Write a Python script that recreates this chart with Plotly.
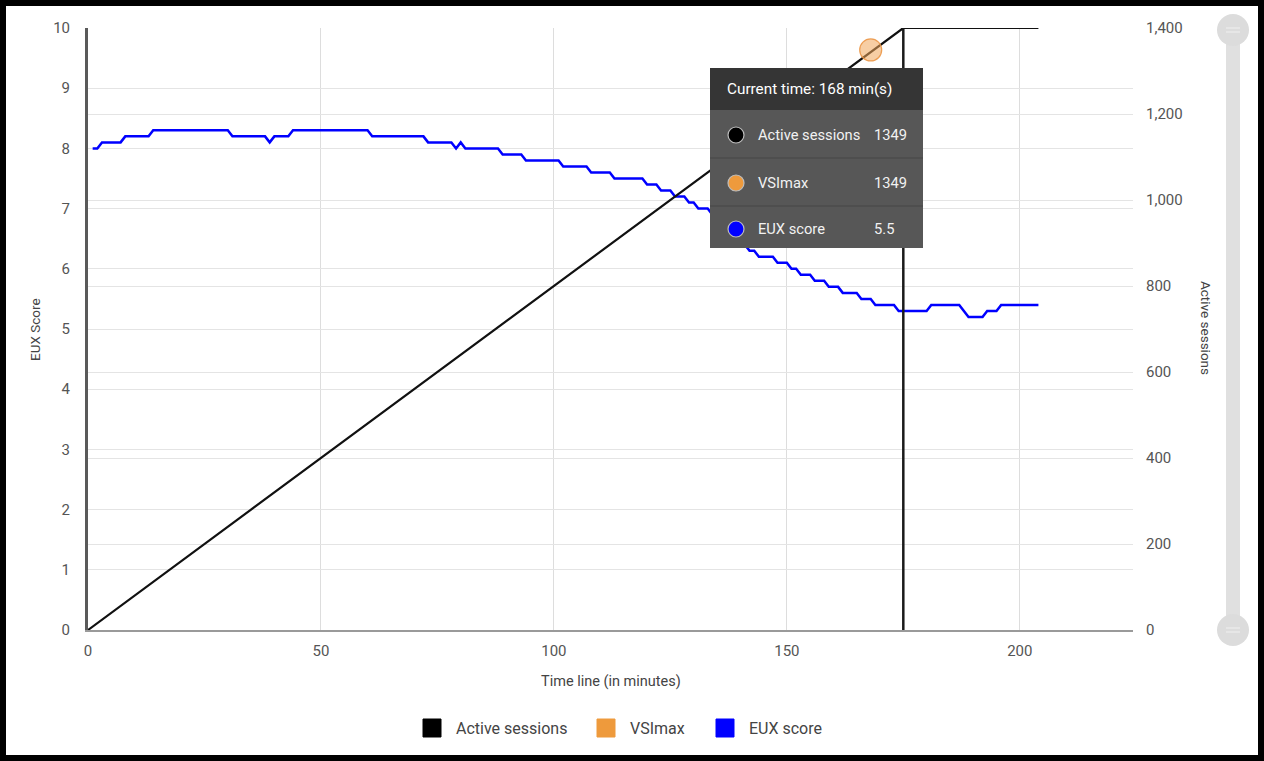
import plotly.graph_objects as go

# ---------------- data ----------------
eux_time = [1, 2, 3, 7, 8, 13, 14, 30, 31, 38, 39, 40, 43, 44, 60, 61, 72, 73, 78, 79,
            80, 81, 88, 89, 93, 94, 101, 102, 107, 108, 112, 113, 119, 120, 122, 123,
            125, 126, 128, 129, 130, 131, 133, 134, 135, 136, 137, 138, 139, 140, 141,
            142, 143, 144, 147, 148, 150, 151, 152, 153, 155, 156, 158, 159, 161, 162,
            165, 166, 168, 169, 173, 174, 180, 181, 187, 189, 192, 193, 195, 196, 204]
eux_score = [8.0, 8.0, 8.1, 8.1, 8.2, 8.2, 8.3, 8.3, 8.2, 8.2, 8.1, 8.2, 8.2, 8.3, 8.3, 8.2, 8.2, 8.1, 8.1, 8.0,
             8.1, 8.0, 8.0, 7.9, 7.9, 7.8, 7.8, 7.7, 7.7, 7.6, 7.6, 7.5, 7.5, 7.4, 7.4, 7.3,
             7.3, 7.2, 7.2, 7.1, 7.1, 7.0, 7.0, 6.9, 6.9, 6.8, 6.7, 6.7, 6.6, 6.5, 6.4,
             6.3, 6.3, 6.2, 6.2, 6.1, 6.1, 6.0, 6.0, 5.9, 5.9, 5.8, 5.8, 5.7, 5.7, 5.6,
             5.6, 5.5, 5.5, 5.4, 5.4, 5.3, 5.3, 5.4, 5.4, 5.2, 5.2, 5.3, 5.3, 5.4, 5.4]
assert len(eux_time) == len(eux_score)

sessions_time = [0, 175, 204]
sessions_count = [0, 1400, 1400]

cutoff_time = [175, 175]
cutoff_count = [0, 1400]

vsimax_time = [168]
vsimax_sessions = [1349]

hover_time = 168

series_names = ["Active sessions", "VSImax", "EUX score"]
series_colors = ["#000000", "#ee9a3c", "#0000ff"]

x_ticks = [0, 50, 100, 150, 200]
left_ticks = list(range(0, 11))
right_ticks = [0, 200, 400, 600, 800, 1000, 1200, 1400]

# ---------------- layout helpers (pixel -> paper) ----------------
L, R, T, B = 88, 1133, 28, 630
W, H = R - L, B - T


def px(x):
    return (x - L) / W


def py(y):
    return (B - y) / H


FONT = "Roboto"

fig = go.Figure()

# EUX score (left axis)
fig.add_trace(go.Scatter(x=eux_time, y=eux_score, mode="lines", name=series_names[2],
                         line=dict(color=series_colors[2], width=2.5), showlegend=False,
                         yaxis="y"))
# Active sessions (right axis)
fig.add_trace(go.Scatter(x=sessions_time, y=sessions_count, mode="lines", name=series_names[0],
                         line=dict(color="#111111", width=2.2), showlegend=False,
                         yaxis="y2"))
fig.add_trace(go.Scatter(x=cutoff_time, y=cutoff_count, mode="lines", name="cutoff",
                         line=dict(color="#1a1a1a", width=2.5), showlegend=False,
                         hoverinfo="skip", yaxis="y2"))
# VSImax point
fig.add_trace(go.Scatter(x=vsimax_time, y=vsimax_sessions, mode="markers", name=series_names[1],
                         marker=dict(size=22, color="rgba(240,165,90,0.55)",
                                     line=dict(color="rgba(235,150,70,0.9)", width=1.2)),
                         showlegend=False, yaxis="y2"))

shapes = []
annotations = []

# Outer black frame
shapes.append(dict(type="rect", xref="paper", yref="paper",
                   x0=px(3), x1=px(1261), y0=py(758), y1=py(3),
                   line=dict(color="#000000", width=6), fillcolor="rgba(0,0,0,0)",
                   layer="above"))

# Legend (square swatches, drawn)
legend_sq_x = [432, 606, 725]
legend_y = 728
for cx, nm, col in zip(legend_sq_x, series_names, series_colors):
    shapes.append(dict(type="rect", xref="paper", yref="paper",
                       x0=px(cx - 9), x1=px(cx + 9), y0=py(legend_y + 9), y1=py(legend_y - 9),
                       fillcolor=col, line=dict(color=col, width=1), layer="above"))
    annotations.append(dict(xref="paper", yref="paper", x=px(cx + 22), y=py(legend_y), text=nm,
                            showarrow=False, xanchor="left", yanchor="middle",
                            font=dict(family=FONT, size=16, color="#444444")))

# Tooltip
tx0, tx1 = 710, 923
shapes.append(dict(type="rect", xref="paper", yref="paper", x0=px(tx0), x1=px(tx1),
                   y0=py(110), y1=py(68), fillcolor="#353535", line=dict(width=0), layer="above"))
shapes.append(dict(type="rect", xref="paper", yref="paper", x0=px(tx0), x1=px(tx1),
                   y0=py(248), y1=py(110), fillcolor="#575757", line=dict(width=0), layer="above"))
for sy in (158, 206):
    shapes.append(dict(type="line", xref="paper", yref="paper", x0=px(tx0), x1=px(tx1),
                       y0=py(sy), y1=py(sy), line=dict(color="#4b4b4b", width=1.5), layer="above"))

eux_at_hover = eux_score[eux_time.index(hover_time)]
tip_values = [str(vsimax_sessions[0]), str(vsimax_sessions[0]), f"{eux_at_hover:.1f}"]
row_y = [135, 183, 229]
for ry, nm, col, val in zip(row_y, series_names, series_colors, tip_values):
    shapes.append(dict(type="circle", xref="paper", yref="paper",
                       x0=px(728), x1=px(744), y0=py(ry + 8), y1=py(ry - 8),
                       fillcolor=col, line=dict(color="#bdbdbd", width=1.2), layer="above"))
    annotations.append(dict(xref="paper", yref="paper", x=px(756), y=py(ry), text=nm,
                            showarrow=False, xanchor="left", yanchor="middle",
                            font=dict(family=FONT, size=14.7, color="#f2f2f2")))
    annotations.append(dict(xref="paper", yref="paper", x=px(872), y=py(ry), text=val,
                            showarrow=False, xanchor="left", yanchor="middle",
                            font=dict(family=FONT, size=14.7, color="#f2f2f2")))
annotations.append(dict(xref="paper", yref="paper", x=px(725), y=py(89),
                        text=f"Current time: {hover_time} min(s)",
                        showarrow=False, xanchor="left", yanchor="middle",
                        font=dict(family=FONT, size=15.3, color="#ffffff")))

# Right-hand range slider (decorative)
shapes.append(dict(type="rect", xref="paper", yref="paper", x0=px(1226), x1=px(1240),
                   y0=py(630), y1=py(30), fillcolor="#e0e0e0", line=dict(width=0), layer="above"))
for cy in (30, 630):
    shapes.append(dict(type="circle", xref="paper", yref="paper",
                       x0=px(1217), x1=px(1249), y0=py(cy + 16), y1=py(cy - 16),
                       fillcolor="#dcdcdc", line=dict(width=0), layer="above"))
    for dy in (-2, 2):
        shapes.append(dict(type="line", xref="paper", yref="paper",
                           x0=px(1226), x1=px(1240), y0=py(cy + dy), y1=py(cy + dy),
                           line=dict(color="#f0f0f0", width=1), layer="above"))

# Axis titles
annotations.append(dict(xref="paper", yref="paper", x=px(35), y=py(330), text="EUX Score",
                        textangle=-90, showarrow=False, xanchor="center", yanchor="middle",
                        font=dict(family=FONT, size=13.5, color="#444444")))
annotations.append(dict(xref="paper", yref="paper", x=px(1206), y=py(328), text="Active sessions",
                        textangle=90, showarrow=False, xanchor="center", yanchor="middle",
                        font=dict(family=FONT, size=13.5, color="#444444")))
annotations.append(dict(xref="paper", yref="paper", x=px(611), y=py(682),
                        text="Time line (in minutes)", showarrow=False,
                        xanchor="center", yanchor="middle",
                        font=dict(family=FONT, size=14.5, color="#444444")))

fig.update_layout(
    width=1264, height=761,
    margin=dict(l=L, r=1264 - R, t=T, b=761 - B, autoexpand=False),
    paper_bgcolor="#ffffff", plot_bgcolor="#ffffff",
    font=dict(family=FONT, size=15, color="#555555"),
    xaxis=dict(range=[0, 224.3], tickvals=x_ticks, showgrid=True, gridcolor="#dddddd",
               gridwidth=1, zeroline=False, showline=True, linecolor="#9a9a9a", linewidth=1.5,
               ticks="", ticklabelstandoff=6, tickfont=dict(size=15, color="#555555")),
    yaxis=dict(range=[0, 10], tickvals=left_ticks, showgrid=True, gridcolor="#e4e4e4",
               zeroline=False, showline=True, linecolor="#5a5a5a", linewidth=3,
               ticks="", ticklabelstandoff=12, tickfont=dict(size=15, color="#555555")),
    yaxis2=dict(range=[0, 1400], tickvals=right_ticks, tickformat=",d", overlaying="y",
                side="right", showgrid=True, gridcolor="#e4e4e4", zeroline=False,
                showline=False, ticks="", ticklabelstandoff=12,
                tickfont=dict(size=15, color="#555555")),
    showlegend=False,
    shapes=shapes,
    annotations=annotations,
    hovermode=False,
)

fig.write_html("out.html", config={"displayModeBar": False},
               post_script="document.body.style.margin='0';document.body.style.overflow='hidden';")
